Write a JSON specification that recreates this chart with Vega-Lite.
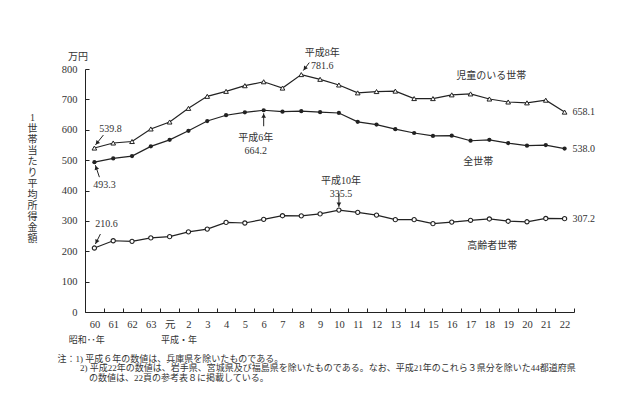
{
  "$schema": "https://vega.github.io/schema/vega-lite/v6.json",
  "width": 489,
  "height": 243,
  "autosize": "none",
  "padding": {"left": 85, "top": 69, "right": 66, "bottom": 82},
  "background": "white",
  "config": {
    "view": {"stroke": null},
    "font": "'Liberation Serif', 'Noto Sans CJK JP', serif",
    "axis": {
      "grid": false,
      "domainColor": "#222",
      "tickColor": "#222",
      "labelColor": "#333",
      "titleColor": "#333",
      "labelFont": "'Liberation Serif', 'Noto Sans CJK JP', serif",
      "titleFont": "'Liberation Serif', 'Noto Sans CJK JP', serif",
      "labelFontSize": 10.5,
      "titleFontWeight": "normal",
      "tickSize": -4
    },
    "text": {"font": "'Liberation Serif', 'Noto Sans CJK JP', serif", "fontSize": 10, "fill": "#333"}
  },
  "title": {
    "text": "万円",
    "anchor": "start",
    "frame": "group",
    "orient": "top",
    "dx": -17,
    "offset": -14,
    "font": "'Liberation Serif', 'Noto Sans CJK JP', serif",
    "fontSize": 10,
    "fontWeight": "normal",
    "color": "#333"
  },
  "datasets": {
    "income": [
      {"year": "60", "series": "児童のいる世帯", "value": 539.8},
      {"year": "61", "series": "児童のいる世帯", "value": 556.4},
      {"year": "62", "series": "児童のいる世帯", "value": 561.3},
      {"year": "63", "series": "児童のいる世帯", "value": 602.6},
      {"year": "元", "series": "児童のいる世帯", "value": 625.5},
      {"year": "2", "series": "児童のいる世帯", "value": 670.4},
      {"year": "3", "series": "児童のいる世帯", "value": 710.0},
      {"year": "4", "series": "児童のいる世帯", "value": 726.4},
      {"year": "5", "series": "児童のいる世帯", "value": 745.0},
      {"year": "6", "series": "児童のいる世帯", "value": 758.0},
      {"year": "7", "series": "児童のいる世帯", "value": 737.2},
      {"year": "8", "series": "児童のいる世帯", "value": 781.6},
      {"year": "9", "series": "児童のいる世帯", "value": 766.0},
      {"year": "10", "series": "児童のいる世帯", "value": 747.4},
      {"year": "11", "series": "児童のいる世帯", "value": 721.4},
      {"year": "12", "series": "児童のいる世帯", "value": 725.8},
      {"year": "13", "series": "児童のいる世帯", "value": 727.2},
      {"year": "14", "series": "児童のいる世帯", "value": 702.7},
      {"year": "15", "series": "児童のいる世帯", "value": 702.6},
      {"year": "16", "series": "児童のいる世帯", "value": 714.9},
      {"year": "17", "series": "児童のいる世帯", "value": 718.0},
      {"year": "18", "series": "児童のいる世帯", "value": 701.2},
      {"year": "19", "series": "児童のいる世帯", "value": 691.4},
      {"year": "20", "series": "児童のいる世帯", "value": 688.5},
      {"year": "21", "series": "児童のいる世帯", "value": 697.3},
      {"year": "22", "series": "児童のいる世帯", "value": 658.1},
      {"year": "60", "series": "全世帯", "value": 493.3},
      {"year": "61", "series": "全世帯", "value": 505.6},
      {"year": "62", "series": "全世帯", "value": 513.2},
      {"year": "63", "series": "全世帯", "value": 545.3},
      {"year": "元", "series": "全世帯", "value": 566.7},
      {"year": "2", "series": "全世帯", "value": 596.6},
      {"year": "3", "series": "全世帯", "value": 628.7},
      {"year": "4", "series": "全世帯", "value": 647.8},
      {"year": "5", "series": "全世帯", "value": 657.5},
      {"year": "6", "series": "全世帯", "value": 664.2},
      {"year": "7", "series": "全世帯", "value": 659.6},
      {"year": "8", "series": "全世帯", "value": 661.2},
      {"year": "9", "series": "全世帯", "value": 657.7},
      {"year": "10", "series": "全世帯", "value": 655.2},
      {"year": "11", "series": "全世帯", "value": 626.0},
      {"year": "12", "series": "全世帯", "value": 616.9},
      {"year": "13", "series": "全世帯", "value": 602.0},
      {"year": "14", "series": "全世帯", "value": 589.3},
      {"year": "15", "series": "全世帯", "value": 579.7},
      {"year": "16", "series": "全世帯", "value": 580.4},
      {"year": "17", "series": "全世帯", "value": 563.8},
      {"year": "18", "series": "全世帯", "value": 566.8},
      {"year": "19", "series": "全世帯", "value": 556.2},
      {"year": "20", "series": "全世帯", "value": 547.5},
      {"year": "21", "series": "全世帯", "value": 549.6},
      {"year": "22", "series": "全世帯", "value": 538.0},
      {"year": "60", "series": "高齢者世帯", "value": 210.6},
      {"year": "61", "series": "高齢者世帯", "value": 234.6},
      {"year": "62", "series": "高齢者世帯", "value": 232.6},
      {"year": "63", "series": "高齢者世帯", "value": 244.0},
      {"year": "元", "series": "高齢者世帯", "value": 248.0},
      {"year": "2", "series": "高齢者世帯", "value": 264.0},
      {"year": "3", "series": "高齢者世帯", "value": 273.0},
      {"year": "4", "series": "高齢者世帯", "value": 295.0},
      {"year": "5", "series": "高齢者世帯", "value": 293.0},
      {"year": "6", "series": "高齢者世帯", "value": 305.0},
      {"year": "7", "series": "高齢者世帯", "value": 317.0},
      {"year": "8", "series": "高齢者世帯", "value": 316.5},
      {"year": "9", "series": "高齢者世帯", "value": 323.0},
      {"year": "10", "series": "高齢者世帯", "value": 335.5},
      {"year": "11", "series": "高齢者世帯", "value": 328.0},
      {"year": "12", "series": "高齢者世帯", "value": 319.0},
      {"year": "13", "series": "高齢者世帯", "value": 304.0},
      {"year": "14", "series": "高齢者世帯", "value": 304.0},
      {"year": "15", "series": "高齢者世帯", "value": 290.9},
      {"year": "16", "series": "高齢者世帯", "value": 296.1},
      {"year": "17", "series": "高齢者世帯", "value": 301.9},
      {"year": "18", "series": "高齢者世帯", "value": 306.3},
      {"year": "19", "series": "高齢者世帯", "value": 298.9},
      {"year": "20", "series": "高齢者世帯", "value": 297.0},
      {"year": "21", "series": "高齢者世帯", "value": 307.9},
      {"year": "22", "series": "高齢者世帯", "value": 307.2}
    ],
    "notes": [
      {"id": "h6", "year": "6", "value": 664.2, "label": "平成6年\n664.2"},
      {"id": "h8", "year": "8", "value": 781.6, "label": "平成8年\n781.6"},
      {"id": "h10", "year": "10", "value": 335.5, "label": "平成10年\n335.5"},
      {"id": "child", "year": "18", "value": 701.2, "label": "児童のいる世帯"},
      {"id": "all", "year": "18", "value": 566.8, "label": "全世帯"},
      {"id": "elder", "year": "18", "value": 306.3, "label": "高齢者世帯"}
    ]
  },
  "data": {"name": "income"},
  "encoding": {
    "x": {
      "field": "year",
      "type": "ordinal",
      "sort": null,
      "bandPosition": 0.5,
      "scale": {
        "type": "band",
        "domain": ["60", "61", "62", "63", "元", "2", "3", "4", "5", "6", "7", "8", "9", "10", "11", "12", "13", "14", "15", "16", "17", "18", "19", "20", "21", "22"],
        "paddingInner": 0,
        "paddingOuter": 0
      },
      "axis": {
        "labelAngle": 0,
        "labelPadding": 11,
        "tickBand": "extent",
        "title": ["\u200b\u00a0\u00a0\u00a0\u00a0\u00a0昭和･･年\u3000\u3000\u3000\u3000\u3000\u3000\u00a0平成・年", "\u200b", "\u200b注：1) 平成６年の数値は、兵庫県を除いたものである。", "\u200b\u3000\u3000\u00a0\u00a02) 平成22年の数値は、岩手県、宮城県及び福島県を除いたものである。なお、平成21年のこれら３県分を除いた44都道府県", "\u200b\u3000\u3000\u3000\u00a0\u00a0の数値は、22頁の参考表８に掲載している。"],
        "titleX": -28,
        "titleY": 23,
        "titleAlign": "left",
        "titleAnchor": "start",
        "titleBaseline": "top",
        "titleAngle": 0,
        "titleFontSize": 9,
        "titleLineHeight": 9.5
      }
    },
    "y": {
      "field": "value",
      "type": "quantitative",
      "scale": {"domain": [0, 800], "nice": false},
      "axis": {
        "values": [0, 100, 200, 300, 400, 500, 600, 700, 800],
        "labelPadding": 12,
        "title": ["1", "世", "帯", "当", "た", "り", "平", "均", "所", "得", "金", "額"],
        "titleAngle": 0,
        "titleAlign": "center",
        "titleBaseline": "top",
        "titleX": -53,
        "titleY": 43,
        "titleFontSize": 10,
        "titleLineHeight": 11
      }
    }
  },
  "layer": [
    {"mark": {"type": "line", "stroke": "#222", "strokeWidth": 1.2}, "encoding": {"detail": {"field": "series"}}},
    {
      "transform": [{"filter": {"field": "series", "equal": "児童のいる世帯"}}],
      "mark": {"type": "point", "shape": "triangle-up", "filled": true, "fill": "white", "stroke": "#222", "strokeWidth": 1, "size": 22, "opacity": 1}
    },
    {
      "transform": [{"filter": {"field": "series", "equal": "全世帯"}}],
      "mark": {"type": "point", "shape": "circle", "filled": true, "fill": "#222", "size": 18, "opacity": 1}
    },
    {
      "transform": [{"filter": {"field": "series", "equal": "高齢者世帯"}}],
      "mark": {"type": "point", "shape": "circle", "filled": true, "fill": "white", "stroke": "#222", "strokeWidth": 1.1, "size": 18, "opacity": 1}
    },
    {
      "transform": [{"filter": {"field": "year", "equal": "22"}}],
      "mark": {"type": "text", "align": "left", "baseline": "middle", "dx": 8},
      "encoding": {"text": {"field": "value", "type": "quantitative", "format": ".1f"}}
    },
    {
      "transform": [{"filter": {"and": [{"field": "year", "equal": "60"}, {"field": "series", "equal": "児童のいる世帯"}]}}],
      "mark": {"type": "text", "align": "center", "baseline": "middle", "dx": 16, "dy": -19},
      "encoding": {"text": {"field": "value", "type": "quantitative", "format": ".1f"}}
    },
    {
      "transform": [{"filter": {"and": [{"field": "year", "equal": "60"}, {"field": "series", "equal": "全世帯"}]}}],
      "mark": {"type": "text", "align": "center", "baseline": "middle", "dx": 10, "dy": 23},
      "encoding": {"text": {"field": "value", "type": "quantitative", "format": ".1f"}}
    },
    {
      "transform": [{"filter": {"and": [{"field": "year", "equal": "60"}, {"field": "series", "equal": "高齢者世帯"}]}}],
      "mark": {"type": "text", "align": "center", "baseline": "middle", "dx": 12, "dy": -24},
      "encoding": {"text": {"field": "value", "type": "quantitative", "format": ".1f"}}
    },
    {
      "data": {"name": "notes"},
      "transform": [{"filter": {"field": "id", "equal": "h6"}}],
      "mark": {"type": "text", "align": "center", "baseline": "middle", "lineBreak": "\n", "lineHeight": 13, "dx": -8, "dy": 28},
      "encoding": {"text": {"field": "label"}}
    },
    {
      "data": {"name": "notes"},
      "transform": [{"filter": {"field": "id", "equal": "h8"}}],
      "mark": {"type": "text", "align": "center", "baseline": "middle", "lineBreak": "\n", "lineHeight": 13, "dx": 21, "dy": -22},
      "encoding": {"text": {"field": "label"}}
    },
    {
      "data": {"name": "notes"},
      "transform": [{"filter": {"field": "id", "equal": "h10"}}],
      "mark": {"type": "text", "align": "center", "baseline": "middle", "lineBreak": "\n", "lineHeight": 13, "dx": 2, "dy": -29},
      "encoding": {"text": {"field": "label"}}
    },
    {
      "data": {"name": "notes"},
      "transform": [{"filter": {"field": "id", "equal": "child"}}],
      "mark": {"type": "text", "align": "center", "baseline": "middle", "dx": 2, "dy": -23},
      "encoding": {"text": {"field": "label"}}
    },
    {
      "data": {"name": "notes"},
      "transform": [{"filter": {"field": "id", "equal": "all"}}],
      "mark": {"type": "text", "align": "center", "baseline": "middle", "dx": -11, "dy": 22},
      "encoding": {"text": {"field": "label"}}
    },
    {
      "data": {"name": "notes"},
      "transform": [{"filter": {"field": "id", "equal": "elder"}}],
      "mark": {"type": "text", "align": "center", "baseline": "middle", "dx": 3, "dy": 27},
      "encoding": {"text": {"field": "label"}}
    },
    {
      "transform": [{"filter": {"and": [{"field": "year", "equal": "60"}, {"field": "series", "equal": "児童のいる世帯"}]}}],
      "mark": {"type": "rule", "stroke": "#222", "strokeWidth": 1, "xOffset": 1, "yOffset": -3, "x2Offset": 9, "y2Offset": -13},
      "encoding": {"x2": {"field": "year"}, "y2": {"field": "value"}}
    },
    {
      "transform": [{"filter": {"and": [{"field": "year", "equal": "60"}, {"field": "series", "equal": "児童のいる世帯"}]}}],
      "mark": {"type": "point", "shape": "triangle-up", "filled": true, "color": "#222", "opacity": 1, "size": 22, "angle": 218.7, "xOffset": 2.6, "yOffset": -5}
    },
    {
      "transform": [{"filter": {"and": [{"field": "year", "equal": "60"}, {"field": "series", "equal": "全世帯"}]}}],
      "mark": {"type": "rule", "stroke": "#222", "strokeWidth": 1, "xOffset": 1, "yOffset": 3, "x2Offset": 5, "y2Offset": 15},
      "encoding": {"x2": {"field": "year"}, "y2": {"field": "value"}}
    },
    {
      "transform": [{"filter": {"and": [{"field": "year", "equal": "60"}, {"field": "series", "equal": "全世帯"}]}}],
      "mark": {"type": "point", "shape": "triangle-up", "filled": true, "color": "#222", "opacity": 1, "size": 22, "angle": 341.6, "xOffset": 1.8, "yOffset": 5.4}
    },
    {
      "transform": [{"filter": {"and": [{"field": "year", "equal": "6"}, {"field": "series", "equal": "全世帯"}]}}],
      "mark": {"type": "rule", "stroke": "#222", "strokeWidth": 1, "xOffset": 0, "yOffset": 3, "x2Offset": 0, "y2Offset": 16},
      "encoding": {"x2": {"field": "year"}, "y2": {"field": "value"}}
    },
    {
      "transform": [{"filter": {"and": [{"field": "year", "equal": "6"}, {"field": "series", "equal": "全世帯"}]}}],
      "mark": {"type": "point", "shape": "triangle-up", "filled": true, "color": "#222", "opacity": 1, "size": 22, "angle": 0, "xOffset": 0, "yOffset": 5.5}
    },
    {
      "transform": [{"filter": {"and": [{"field": "year", "equal": "8"}, {"field": "series", "equal": "児童のいる世帯"}]}}],
      "mark": {"type": "rule", "stroke": "#222", "strokeWidth": 1, "xOffset": 2, "yOffset": -4, "x2Offset": 8, "y2Offset": -12},
      "encoding": {"x2": {"field": "year"}, "y2": {"field": "value"}}
    },
    {
      "transform": [{"filter": {"and": [{"field": "year", "equal": "8"}, {"field": "series", "equal": "児童のいる世帯"}]}}],
      "mark": {"type": "point", "shape": "triangle-up", "filled": true, "color": "#222", "opacity": 1, "size": 22, "angle": 216.9, "xOffset": 3.5, "yOffset": -6}
    },
    {
      "transform": [{"filter": {"and": [{"field": "year", "equal": "10"}, {"field": "series", "equal": "高齢者世帯"}]}}],
      "mark": {"type": "rule", "stroke": "#222", "strokeWidth": 1, "xOffset": 0, "yOffset": -3, "x2Offset": 0, "y2Offset": -17},
      "encoding": {"x2": {"field": "year"}, "y2": {"field": "value"}}
    },
    {
      "transform": [{"filter": {"and": [{"field": "year", "equal": "10"}, {"field": "series", "equal": "高齢者世帯"}]}}],
      "mark": {"type": "point", "shape": "triangle-up", "filled": true, "color": "#222", "opacity": 1, "size": 22, "angle": 180, "xOffset": 0, "yOffset": -5.5}
    },
    {
      "transform": [{"filter": {"and": [{"field": "year", "equal": "60"}, {"field": "series", "equal": "高齢者世帯"}]}}],
      "mark": {"type": "rule", "stroke": "#222", "strokeWidth": 1, "xOffset": 1, "yOffset": -4, "x2Offset": 6, "y2Offset": -14},
      "encoding": {"x2": {"field": "year"}, "y2": {"field": "value"}}
    },
    {
      "transform": [{"filter": {"and": [{"field": "year", "equal": "60"}, {"field": "series", "equal": "高齢者世帯"}]}}],
      "mark": {"type": "point", "shape": "triangle-up", "filled": true, "color": "#222", "opacity": 1, "size": 22, "angle": 206.6, "xOffset": 2.1, "yOffset": -6.2}
    }
  ]
}
